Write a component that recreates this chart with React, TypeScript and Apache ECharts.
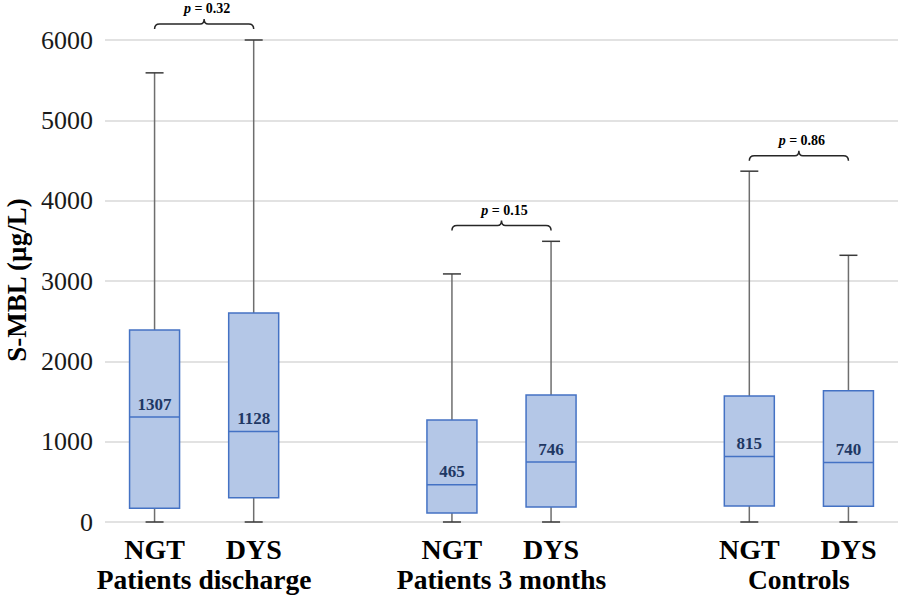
import React, { useEffect, useRef } from "react";
import * as echarts from "echarts";

const categories = ["NGT", "DYS", "", "NGT", "DYS", "", "NGT", "DYS"];
const boxIndex = [0, 1, 3, 4, 6, 7];
const minVals = [0, 0, 0, 0, 0, 0];
const q1Vals = [170, 303, 112, 187, 200, 197];
const medianVals = [1307, 1128, 465, 746, 815, 740];
const q3Vals = [2391, 2603, 1270, 1580, 1567, 1634];
const maxVals = [5591, 6000, 3088, 3494, 4367, 3320];

const groupStart = [0, 3, 6];
const groupLabels = ["Patients discharge", "Patients 3 months", "Controls"];

const bracketLeft = [0, 3, 6];
const bracketRight = [1, 4, 7];
const bracketLevel = [6200, 3690, 4560];
const pValues = ["0.32", "0.15", "0.86"];

const FONT = "'Liberation Serif', 'Times New Roman', serif";

export default function App() {
  const ref = useRef<HTMLDivElement>(null);
  useEffect(() => {
    if (!ref.current) return;
    const chart = echarts.init(ref.current, undefined, { renderer: "svg" });

    const boxData = boxIndex.map((c, i) => [c, minVals[i], q1Vals[i], medianVals[i], q3Vals[i], maxVals[i]]);
    const groupData = groupStart.map((g) => [g, 0]);
    const bracketData = bracketLeft.map((l, i) => [l, bracketLevel[i], bracketRight[i]]);

    const option: any = {
      animation: false,
      backgroundColor: "#ffffff",
      grid: { left: 105, right: 0, top: 40, bottom: 73, containLabel: false },
      xAxis: {
        type: "category",
        data: categories,
        axisLine: { show: false },
        axisTick: { show: false },
        axisLabel: {
          interval: 0,
          margin: 13,
          fontSize: 28,
          fontWeight: "bold",
          color: "#000000",
          fontFamily: FONT,
        },
        splitLine: { show: false },
      },
      yAxis: {
        type: "value",
        min: 0,
        max: 6000,
        interval: 1000,
        axisLine: { show: false },
        axisTick: { show: false },
        axisLabel: {
          fontSize: 26,
          color: "#1a1a1a",
          fontFamily: FONT,
          margin: 12,
          formatter: (v: number) => String(v),
        },
        splitLine: { lineStyle: { color: "#d9d9d9", width: 1.5 } },
      },
      graphic: [
        {
          type: "text",
          x: 17,
          y: 280,
          rotation: Math.PI / 2,
          style: {
            text: "S-MBL (µg/L)",
            fontSize: 27,
            fontWeight: "bold",
            fontFamily: FONT,
            fill: "#000000",
            align: "center",
            verticalAlign: "middle",
          },
        },
      ],
      series: [
        {
          type: "custom",
          name: "box",
          data: boxData,
          encode: { x: 0, y: [1, 2, 3, 4, 5] },
          renderItem: (params: any, api: any) => {
            const idx = api.value(0);
            const pMin = api.coord([idx, api.value(1)]);
            const pQ1 = api.coord([idx, api.value(2)]);
            const pMed = api.coord([idx, api.value(3)]);
            const pQ3 = api.coord([idx, api.value(4)]);
            const pMax = api.coord([idx, api.value(5)]);
            const x = pMin[0];
            const halfBox = 25;
            const halfCap = 9;
            const wh = { stroke: "#6e6e6e", lineWidth: 1.5 };
            return {
              type: "group",
              children: [
                { type: "line", shape: { x1: x, y1: pMax[1], x2: x, y2: pQ3[1] }, style: wh },
                { type: "line", shape: { x1: x - halfCap, y1: pMax[1], x2: x + halfCap, y2: pMax[1] }, style: { stroke: "#3a3a3a", lineWidth: 1.5 } },
                { type: "line", shape: { x1: x, y1: pQ1[1], x2: x, y2: pMin[1] }, style: wh },
                { type: "line", shape: { x1: x - halfCap, y1: pMin[1], x2: x + halfCap, y2: pMin[1] }, style: { stroke: "#3a3a3a", lineWidth: 1.5 } },
                {
                  type: "rect",
                  shape: { x: x - halfBox, y: pQ3[1], width: halfBox * 2, height: pQ1[1] - pQ3[1] },
                  style: { fill: "#b4c7e7", stroke: "#4472c4", lineWidth: 1.5 },
                },
                { type: "line", shape: { x1: x - halfBox, y1: pMed[1], x2: x + halfBox, y2: pMed[1] }, style: { stroke: "#4472c4", lineWidth: 1.5 } },
                {
                  type: "text",
                  x: x,
                  y: pMed[1] - 13,
                  style: {
                    text: String(medianVals[params.dataIndex]),
                    fontSize: 17,
                    fontWeight: "bold",
                    fontFamily: FONT,
                    fill: "#1f3864",
                    align: "center",
                    verticalAlign: "middle",
                  },
                },
              ],
            };
          },
        },
        {
          type: "custom",
          name: "groups",
          data: groupData,
          encode: { x: 0, y: 1 },
          renderItem: (params: any, api: any) => {
            const i = api.value(0);
            const a = api.coord([i, 0]);
            const b = api.coord([i + 1, 0]);
            return {
              type: "text",
              x: (a[0] + b[0]) / 2,
              y: a[1] + 57,
              style: {
                text: groupLabels[params.dataIndex],
                fontSize: 27.5,
                fontWeight: "bold",
                fontFamily: FONT,
                fill: "#000000",
                align: "center",
                verticalAlign: "middle",
              },
            };
          },
        },
        {
          type: "custom",
          name: "brackets",
          data: bracketData,
          encode: { x: [0, 2], y: 1 },
          renderItem: (params: any, api: any) => {
            const a = api.coord([api.value(0), api.value(1)]);
            const b = api.coord([api.value(2), api.value(1)]);
            const x1 = a[0];
            const x2 = b[0];
            const y = a[1];
            const xc = (x1 + x2) / 2;
            const d =
              `M${x1},${y + 5} Q${x1},${y} ${x1 + 5},${y} L${xc - 4},${y} Q${xc},${y} ${xc},${y - 5} ` +
              `Q${xc},${y} ${xc + 4},${y} L${x2 - 5},${y} Q${x2},${y} ${x2},${y + 5}`;
            return {
              type: "group",
              children: [
                { type: "path", shape: { pathData: d }, style: { fill: "none", stroke: "#262626", lineWidth: 1.5 } },
                {
                  type: "text",
                  x: xc + 3,
                  y: y - 15,
                  style: {
                    text: `{i|p}{b| = ${pValues[params.dataIndex]}}`,
                    align: "center",
                    verticalAlign: "middle",
                    rich: {
                      i: { fontSize: 14, fontStyle: "italic", fontWeight: "bold", fontFamily: FONT, fill: "#000" },
                      b: { fontSize: 14, fontWeight: "bold", fontFamily: FONT, fill: "#000" },
                    },
                  },
                },
              ],
            };
          },
        },
      ],
    };
    chart.setOption(option);
    return () => chart.dispose();
  }, []);
  return (
    <div
      ref={ref}
      style={{ position: "fixed", left: 0, top: 0, width: 898, height: 595, background: "#fff" }}
    />
  );
}
